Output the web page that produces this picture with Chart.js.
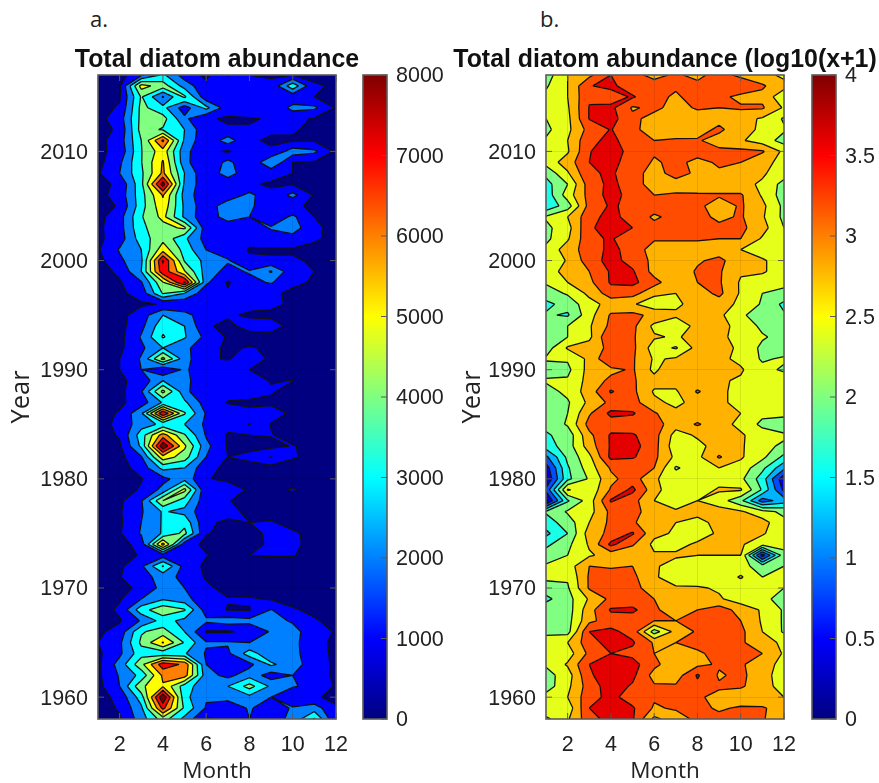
<!DOCTYPE html>
<html>
<head>
<meta charset="utf-8">
<script src="https://cdn.jsdelivr.net/npm/chart.js@4"></script>
<style>
html,body{margin:0;padding:0;background:#fff;width:879px;height:783px;overflow:hidden}
canvas{position:absolute;top:0}
.tag{position:absolute;top:3px;font:22px "Open Sans";color:#222}
</style>
</head>
<body>
<div class="tag" style="left:90px">a.</div>
<div class="tag" style="left:540px">b.</div>
<canvas id="heatA" width="434" height="783" style="left:0"></canvas>
<canvas id="heatB" width="428" height="783" style="left:451px"></canvas>
<canvas id="barA" width="100" height="783" style="left:355px"></canvas>
<canvas id="barB" width="75" height="783" style="left:804px"></canvas>
<script>
const months = [1,2,3,4,5,6,7,8,9,10,11,12];
const years = [2017,2016,2015,2014,2013,2012,2011,2010,2009,2008,2007,2006,2005,2004,2003,2002,2001,2000,1999,1998,
1997,1996,1995,1994,1993,1992,1991,1990,1989,1988,1987,1986,1985,1984,1983,1982,1981,1980,1979,1978,
1977,1976,1975,1974,1973,1972,1971,1970,1969,1968,1967,1966,1965,1964,1963,1962,1961,1960,1959,1958];
const monthTicks = [2,4,6,8,10,12];
const yearTicks = [1960,1970,1980,1990,2000,2010];

// one row per year, top of the plot first
const abundance = [
[500,600,1800,3200,1500,800,2100,1000,900,1000,800,500],
[600,800,5400,4500,2600,1200,1100,1800,1200,3700,1100,900],
[500,900,4100,1900,4200,1300,1100,1100,1100,1300,1000,800],
[700,1100,4300,3300,1500,3300,1400,1900,1100,2300,2200,900],
[700,1500,4300,4400,2200,1100,900,900,1100,1300,900,700],
[600,1200,4400,3900,3000,1200,1100,1100,1100,1100,800,700],
[700,1500,4000,7200,2800,1200,2500,1100,900,900,900,700],
[800,1300,3950,5600,2300,1200,900,1600,1100,2500,2200,800],
[700,1800,3950,6100,2300,1100,2300,1100,2950,1000,900,700],
[900,2000,3800,6200,3000,1100,2600,1100,1300,1000,900,700],
[700,1200,3700,8500,2800,1300,1100,1100,900,950,800,700],
[700,1400,3600,6100,2600,1200,1300,2300,1200,2300,900,700],
[600,1100,3600,5700,2800,1300,2700,2200,1300,1100,900,700],
[700,1600,3900,5300,2800,1200,2600,2000,1300,2200,1000,700],
[800,1600,3800,4600,5200,1300,1100,1400,2100,2500,1200,700],
[800,1500,3500,4700,3200,1600,1100,1200,1500,1600,1100,800],
[900,2100,3000,5600,3600,1980,1400,950,900,900,800,700],
[700,1800,2800,8100,3900,2700,2100,1100,1100,1100,900,700],
[600,1200,3000,7700,5100,2500,1700,2100,3100,1300,1000,700],
[600,900,1900,4900,8200,2200,900,1700,2100,1200,900,700],
[500,800,1400,4100,3000,1300,1100,1100,1200,800,700,600],
[500,700,880,1050,1100,1100,1050,1200,1200,850,700,600],
[500,700,1500,3000,2400,1300,1100,900,800,700,600,600],
[500,700,1700,3700,3000,1100,800,1300,1400,700,600,600],
[500,700,2100,4100,3100,1700,900,700,700,650,600,600],
[500,800,1800,3000,2300,1200,900,1050,900,700,650,600],
[500,1000,2100,5300,2400,1100,950,1300,900,650,600,600],
[500,1000,2000,950,2200,1200,1400,1000,800,700,600,600],
[500,850,1300,3000,2400,1000,1300,1300,950,1020,600,600],
[500,700,1900,5300,2300,1050,1300,1400,1100,650,600,550],
[550,800,1500,3100,3200,1500,950,850,800,650,600,550],
[600,1100,2800,8000,4100,1900,1400,1200,1500,800,600,550],
[700,1200,2600,3200,3000,1800,1300,2050,950,700,600,550],
[550,1100,3500,6500,4100,1900,900,1000,1050,650,600,550],
[500,850,3200,8800,5200,2300,900,800,750,1050,750,550],
[500,700,1900,5600,4500,2000,1000,1200,2050,1100,700,550],
[500,600,1400,3300,3000,1200,850,700,650,600,600,550],
[500,550,950,1700,2600,1100,700,650,600,600,550,550],
[500,600,1100,2300,5300,1050,1800,800,700,1100,600,550],
[500,800,1900,5000,3500,1300,1050,700,650,600,600,550],
[500,900,1900,3100,2700,1200,1200,850,800,700,600,550],
[500,850,2000,3100,3700,1100,900,1000,1050,800,700,550],
[500,900,2100,3100,4300,1050,800,850,1100,1100,800,550],
[500,600,1400,6400,1400,800,700,800,1100,1200,700,550],
[500,600,1100,1500,1300,1050,700,1000,1050,1050,700,550],
[500,800,1800,4100,1600,800,650,600,600,600,550,550],
[500,950,1700,2300,1800,900,600,600,600,600,550,550],
[500,600,1300,2300,2000,1200,700,600,600,600,550,550],
[500,900,2000,2900,2400,1200,1050,1100,900,700,600,550],
[500,1200,3600,4700,4100,1500,950,950,2050,1100,800,600],
[500,900,2100,3400,2700,2200,2500,2300,2300,1900,1100,700],
[800,1400,3900,4400,3000,900,900,1200,2100,2300,1500,900],
[1000,1800,4200,6100,3900,2100,2100,2000,2300,2300,1300,800],
[800,1800,3600,3300,3100,1900,1800,3500,2200,2300,1400,800],
[800,2400,4700,7600,6800,2000,1000,1700,3200,2400,1500,800],
[800,2100,3300,6200,6500,2400,1700,2600,1500,2000,1500,800],
[700,2000,4800,5900,3500,2300,3000,4400,2800,2100,1700,900],
[600,1300,3500,8900,3300,2100,2300,2700,2000,1200,1100,800],
[600,1100,2800,7300,3800,1900,1400,2100,1500,2100,2500,1100],
[700,900,2500,4500,2700,900,1100,2000,1500,2300,4100,1000]
];

const logAbundance = [
[2.2,2.8,3.1,3.6,3.3,3.1,3.25,3.1,3.35,3.1,2.95,2.7],
[2.35,2.8,3.58,3.7,3.35,3.35,3.25,3.3,3.45,3.5,3.25,2.95],
[2.5,2.8,3.55,3.4,3.65,3.3,3.15,3.35,3.3,3.1,3.1,2.5],
[2.45,2.75,3.62,3.7,3.15,3.3,3.05,3.25,3.2,3.25,3.25,2.75],
[2.4,2.7,3.62,3.75,3.3,3.05,2.95,3.0,3.05,2.95,2.75,2.35],
[2.3,2.7,3.35,3.62,3.3,3.0,2.95,3.0,3.3,2.9,2.75,2.45],
[2.45,2.8,3.5,3.7,3.4,3.2,3.25,3.25,3.0,2.85,2.6,2.25],
[2.45,2.75,3.58,3.8,3.45,3.25,3.3,3.35,3.3,3.3,3.25,2.7],
[2.55,3.0,3.6,3.7,3.45,3.15,3.3,3.1,3.25,3.2,2.9,2.7],
[2.1,2.75,3.55,3.65,3.4,3.0,3.4,3.1,3.15,3.15,2.85,2.6],
[1.85,2.4,3.4,3.7,3.4,3.0,3.0,2.95,2.9,2.9,2.75,2.25],
[1.75,2.6,3.35,3.75,3.45,3.2,3.25,3.25,3.25,3.25,2.75,2.2],
[1.7,2.2,3.35,3.65,3.5,3.35,3.3,3.3,3.0,3.25,2.9,2.3],
[2.45,2.8,3.45,3.75,3.4,3.15,3.3,3.35,3.1,3.25,2.85,2.3],
[2.3,2.65,3.55,3.75,3.6,3.3,3.35,3.3,3.3,3.3,2.95,2.4],
[2.3,2.75,3.5,3.65,3.3,3.25,3.25,3.25,3.2,3.2,2.75,2.4],
[2.5,3.0,3.4,3.7,3.45,3.0,3.0,3.0,3.0,2.8,2.6,2.6],
[2.4,2.85,3.4,3.75,3.45,3.1,3.0,3.15,3.3,2.95,2.85,2.6],
[2.6,2.95,3.2,3.65,3.65,3.05,2.95,3.25,3.25,2.85,2.85,2.6],
[2.45,2.8,3.1,3.65,3.7,3.35,2.9,3.2,3.25,2.75,2.6,2.5],
[2.2,2.45,2.9,3.4,3.35,2.9,2.8,3.0,3.3,2.75,2.4,2.3],
[1.9,2.15,2.65,2.95,2.85,2.55,2.75,2.9,3.0,2.7,2.35,1.9],
[2.05,1.95,2.65,3.25,3.3,3.1,2.85,2.9,2.9,2.45,2.25,2.05],
[2.2,2.4,2.75,3.3,3.3,2.7,2.6,2.9,2.9,2.7,2.3,2.2],
[2.1,2.4,2.7,3.6,3.25,2.85,2.75,2.95,2.9,2.65,2.45,2.25],
[2.2,2.85,3.0,3.3,3.3,2.6,2.35,2.95,2.9,2.75,2.3,2.2],
[2.45,2.45,2.9,3.6,3.25,2.75,2.85,2.95,2.9,2.7,2.35,2.45],
[2.2,2.3,2.95,3.1,3.25,2.7,3.2,2.95,2.9,2.85,2.5,2.35],
[2.45,2.45,2.95,3.3,3.25,2.95,2.95,2.95,2.85,2.75,2.6,2.6],
[2.25,2.5,3.0,3.65,3.3,2.75,2.75,3.25,2.9,2.65,2.6,2.6],
[2.25,2.35,2.9,3.3,3.35,2.9,2.7,2.95,2.9,2.65,2.6,2.6],
[2.35,2.4,3.15,3.7,3.65,3.25,2.9,2.95,2.85,2.8,2.5,2.6],
[2.1,2.45,3.35,3.4,3.35,3.4,2.95,3.25,2.95,2.7,2.3,2.0],
[1.95,2.15,3.1,3.65,3.65,3.35,2.65,2.85,2.95,2.85,2.6,2.5],
[1.8,2.2,3.0,3.65,3.75,3.35,2.55,2.7,2.95,2.85,2.55,2.3],
[1.1,2.1,2.7,3.7,3.65,3.3,2.7,2.7,3.25,2.85,2.5,1.9],
[0.6,1.95,2.6,3.25,3.25,3.2,2.35,2.6,2.8,2.65,2.1,1.3],
[0.4,1.9,2.45,3.1,3.4,2.85,2.6,2.65,2.65,2.5,1.8,0.5],
[0.9,2.85,2.5,3.25,3.7,2.95,2.5,2.6,2.85,2.85,1.95,0.7],
[0.3,1.95,2.6,3.65,3.35,2.8,2.6,2.8,2.6,2.1,1.0,1.4],
[2.05,2.45,2.65,3.3,3.3,3.05,2.85,2.85,2.95,2.85,2.55,2.3],
[1.8,2.2,2.8,3.3,3.25,2.95,2.8,2.75,2.85,2.9,2.95,2.5],
[1.5,2.0,3.0,3.3,3.65,2.9,2.75,2.65,2.85,2.9,2.85,2.5],
[1.9,2.3,2.85,3.7,3.25,2.7,2.7,2.85,2.85,2.85,2.55,2.55],
[2.2,2.4,2.75,2.95,2.9,2.85,2.85,2.8,2.8,2.8,0.6,2.25],
[2.45,2.6,3.2,3.15,3.2,2.85,2.65,2.6,2.6,2.55,2.2,2.4],
[2.5,2.45,3.25,3.4,3.3,2.85,2.6,2.5,2.5,2.85,2.4,2.5],
[2.2,2.35,3.25,3.35,3.3,3.05,2.85,2.85,2.75,2.5,2.45,2.4],
[1.9,2.25,2.85,3.3,3.3,3.2,2.95,2.95,2.85,2.6,2.5,2.25],
[2.25,2.2,3.05,3.65,3.7,3.25,3.05,3.2,3.4,3.05,2.75,2.35],
[2.2,2.25,3.1,3.4,3.35,3.2,3.2,3.25,3.4,3.2,2.75,2.35],
[2.25,2.25,3.6,3.7,3.45,2.2,2.95,3.25,3.35,3.3,2.8,2.35],
[2.7,2.8,3.45,3.75,3.65,3.15,3.2,3.3,3.3,3.25,3.0,2.7],
[2.65,2.6,3.3,3.6,3.5,3.2,3.05,3.15,3.3,3.3,3.2,2.75],
[2.45,2.85,3.6,3.85,3.75,3.3,2.95,3.1,3.25,3.25,3.0,2.65],
[2.25,2.6,3.55,3.8,3.7,3.05,3.0,3.65,3.15,3.3,2.95,2.6],
[2.2,2.7,3.4,3.8,3.55,3.25,3.25,3.5,3.25,3.25,3.0,2.6],
[2.55,2.8,3.45,3.72,3.4,3.25,3.3,3.25,3.1,2.95,2.85,2.8],
[2.75,2.55,3.6,3.75,3.65,3.15,3.25,3.3,3.15,3.25,3.25,3.0],
[2.3,2.75,3.45,3.75,3.65,2.7,3.0,3.3,3.3,3.35,3.25,2.85]
];

const levelsA = [0,1000,2000,3000,4000,5000,6000,7000,8000];
const levelsB = [0,0.4,0.8,1.2,1.6,2,2.4,2.8,3.2,3.6];
const barTicksA = [0,1000,2000,3000,4000,5000,6000,7000,8000];
const barTicksB = [0,0.5,1,1.5,2,2.5,3,3.5,4];

const axisColor = "#5a5a5a";
const textColor = "#222";
const tickFont = {family:"Liberation Sans", size:21.5};

function jet(t){
  const c = v => Math.round(255*Math.max(0,Math.min(1,v)));
  return "rgb("+c(Math.min(4*t-1.5,-4*t+4.5))+","+c(Math.min(4*t-0.5,-4*t+3.5))+","+c(Math.min(4*t+0.5,-4*t+2.5))+")";
}

// walk one grid cell and return the part at or above the level, plus the contour segments
function cutCell(corners, level){
  const poly = [], cross = [];
  for(let i=0;i<4;i++){
    const a = corners[i], b = corners[(i+1)%4];
    if(a.v>=level) poly.push(a);
    if((a.v>=level)!==(b.v>=level)){
      const f = (level-a.v)/(b.v-a.v);
      const p = {x:a.x+(b.x-a.x)*f, y:a.y+(b.y-a.y)*f};
      poly.push(p);
      cross.push(p);
    }
  }
  let segs = [];
  if(cross.length==2) segs = [[cross[0],cross[1]]];
  if(cross.length==4){
    if(corners[0].v>=level) segs = [[cross[0],cross[1]],[cross[2],cross[3]]];
    else segs = [[cross[1],cross[2]],[cross[3],cross[0]]];
  }
  return {poly,segs};
}

function contourPlugin(values, levels, colorSteps){
  return {
    id:"contour",
    beforeDatasetsDraw(chart){
      const ctx = chart.ctx, x = chart.scales.x, y = chart.scales.y, a = chart.chartArea;
      const lines = [];
      ctx.save();
      ctx.beginPath();
      ctx.rect(a.left,a.top,a.right-a.left,a.bottom-a.top);
      ctx.clip();
      levels.forEach((level,k)=>{
        ctx.beginPath();
        for(let r=0;r<years.length-1;r++){
          for(let c=0;c<months.length-1;c++){
            const corners = [[r,c],[r,c+1],[r+1,c+1],[r+1,c]].map(p=>({
              x:x.getPixelForValue(months[p[1]]),
              y:y.getPixelForValue(years[p[0]]),
              v:values[p[0]][p[1]]
            }));
            const cut = cutCell(corners,level);
            if(cut.poly.length<3) continue;
            cut.poly.forEach((p,i)=> i ? ctx.lineTo(p.x,p.y) : ctx.moveTo(p.x,p.y));
            ctx.closePath();
            lines.push(...cut.segs);
          }
        }
        ctx.fillStyle = jet(k/colorSteps);
        ctx.fill();
      });
      ctx.beginPath();
      lines.forEach(s=>{ctx.moveTo(s[0].x,s[0].y);ctx.lineTo(s[1].x,s[1].y);});
      ctx.strokeStyle = "#111";
      ctx.lineWidth = 1.3;
      ctx.stroke();
      ctx.restore();
    }
  };
}

// matlab style box with ticks pointing inward
const boxPlugin = {
  id:"box",
  afterDraw(chart){
    const ctx = chart.ctx, a = chart.chartArea, len = 6;
    ctx.save();
    ctx.strokeStyle = axisColor;
    ctx.lineWidth = 1;
    ctx.beginPath();
    if(chart.scales.x.options.display){
      chart.scales.x.ticks.forEach(t=>{
        const p = chart.scales.x.getPixelForValue(t.value);
        ctx.moveTo(p,a.bottom);ctx.lineTo(p,a.bottom-len);
        ctx.moveTo(p,a.top);ctx.lineTo(p,a.top+len);
      });
      chart.scales.y.ticks.forEach(t=>{
        const p = chart.scales.y.getPixelForValue(t.value);
        ctx.moveTo(a.left,p);ctx.lineTo(a.left+len,p);
        ctx.moveTo(a.right,p);ctx.lineTo(a.right-len,p);
      });
    }else{
      chart.scales.y.ticks.forEach(t=>{
        const p = chart.scales.y.getPixelForValue(t.value);
        ctx.moveTo(a.right,p);ctx.lineTo(a.right-len,p);
      });
    }
    ctx.stroke();
    ctx.lineWidth = 1.6;
    ctx.strokeRect(a.left,a.top,a.right-a.left,a.bottom-a.top);
    ctx.restore();
  }
};

function heatChart(id, values, levels, colorSteps, titleText, sidePad){
  const points = [];
  years.forEach((yr,r)=>months.forEach((m,c)=>points.push({x:m,y:yr,v:values[r][c]})));
  new Chart(document.getElementById(id), {
    type:"scatter",
    data:{datasets:[{data:points,pointRadius:0,pointHoverRadius:0}]},
    plugins:[contourPlugin(values,levels,colorSteps),boxPlugin],
    options:{
      responsive:false,
      animation:false,
      events:[],
      layout:{autoPadding:false},
      plugins:{
        legend:{display:false},
        tooltip:{enabled:false},
        title:{
          display:true,
          text:titleText,
          color:"#111",
          font:{family:"Liberation Sans",size:24.9,weight:"bold",lineHeight:1},
          padding:{top:48,bottom:2.1}
        }
      },
      scales:{
        x:{
          type:"linear",min:1,max:12,
          afterBuildTicks(s){s.ticks = monthTicks.map(v=>({value:v}));},
          afterFit(s){s.height = 64;},
          ticks:{color:textColor,font:tickFont,padding:13,maxRotation:0,autoSkip:false,callback:v=>String(v)},
          grid:{color:"rgba(0,0,0,0.09)",z:1,drawTicks:false},
          border:{display:false},
          title:{display:true,text:"Month",color:textColor,font:{family:"Open Sans",size:22.5},padding:{top:0,bottom:-2}}
        },
        y:{
          type:"linear",min:1958,max:2017,
          afterBuildTicks(s){s.ticks = yearTicks.map(v=>({value:v}));},
          afterFit(s){s.width = sidePad;},
          ticks:{color:textColor,font:tickFont,padding:10,labelOffset:1.5,autoSkip:false,callback:v=>String(v)},
          grid:{color:"rgba(0,0,0,0.09)",z:1,drawTicks:false},
          border:{display:false},
          title:{display:true,text:"Year",color:textColor,font:{family:"Open Sans",size:25.5},padding:{top:6,bottom:0}}
        },
        // empty right hand axis, keeps the plot centred under the title
        yRight:{
          type:"linear",position:"right",min:1958,max:2017,
          afterFit(s){s.width = sidePad;},
          ticks:{display:false},
          grid:{display:false,drawTicks:false},
          border:{display:false}
        }
      }
    }
  });
}

function colorBar(id, maxValue, tickValues, axisWidth){
  new Chart(document.getElementById(id), {
    type:"bar",
    data:{
      labels:[""],
      datasets:[{
        data:[[0,maxValue]],
        barPercentage:1,
        categoryPercentage:1,
        backgroundColor(c){
          const a = c.chart.chartArea;
          if(!a) return "#000";
          const g = c.chart.ctx.createLinearGradient(0,a.bottom,0,a.top);
          for(let i=0;i<=32;i++) g.addColorStop(i/32,jet(i/32));
          return g;
        }
      }]
    },
    plugins:[boxPlugin],
    options:{
      responsive:false,
      animation:false,
      events:[],
      layout:{autoPadding:false,padding:{left:8,top:75,bottom:64}},
      plugins:{legend:{display:false},tooltip:{enabled:false}},
      scales:{
        x:{display:false},
        y:{
          position:"right",min:0,max:maxValue,
          afterBuildTicks(s){s.ticks = tickValues.map(v=>({value:v}));},
          afterFit(s){s.width = axisWidth;},
          ticks:{color:textColor,font:tickFont,padding:9,labelOffset:1.5,autoSkip:false,callback:v=>String(v)},
          grid:{display:false,drawTicks:false},
          border:{display:false}
        }
      }
    }
  });
}

heatChart("heatA",abundance,levelsA,8,"Total diatom abundance",98);
heatChart("heatB",logAbundance,levelsB,10,"Total diatom abundance (log10(x+1)",95);
colorBar("barA",8000,barTicksA,68);
colorBar("barB",4,barTicksB,43);
</script>
</body>
</html>
